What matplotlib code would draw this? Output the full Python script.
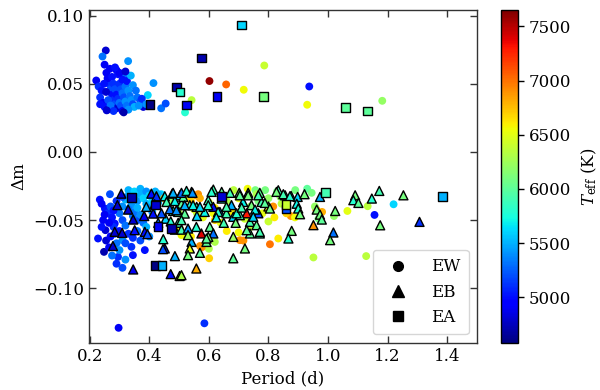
import matplotlib
matplotlib.use("Agg")
import matplotlib.pyplot as plt
from matplotlib.lines import Line2D

plt.rcParams['font.family'] = ['DejaVu Serif']
plt.rcParams['mathtext.fontset'] = 'dejavuserif'

# ---------------- data ----------------
# EW (circles)
ew_period = [0.254, 0.243, 0.250, 0.256, 0.290, 0.295, 0.222, 0.329, 0.318, 0.414, 0.395, 0.440, 0.455, 0.380,
             0.520, 0.542, 0.602, 0.658, 0.717, 0.786, 0.937, 0.930, 1.182,
             0.230, 0.240, 0.235, 0.245, 0.250, 0.260, 0.265, 0.270, 0.275, 0.280, 0.285, 0.290, 0.260, 0.268,
             0.275, 0.280, 0.285, 0.290, 0.295, 0.300, 0.305, 0.310, 0.300, 0.305, 0.310, 0.315, 0.320, 0.325,
             0.310, 0.320, 0.330, 0.335, 0.340, 0.345, 0.350, 0.360, 0.370, 0.365, 0.375, 0.390, 0.330, 0.255,
             0.248, 0.262, 0.270, 0.280, 0.235, 0.325, 0.338, 0.345, 0.355, 0.300, 0.285, 0.320, 0.314, 0.257,
             # lower band, left cluster
             0.234, 0.251, 0.245, 0.253, 0.228, 0.248, 0.290, 0.295, 0.340, 0.345, 0.385, 0.330, 0.310, 0.284,
             0.268, 0.260, 0.270, 0.275, 0.280, 0.285, 0.290, 0.300, 0.300, 0.310, 0.310, 0.320, 0.320, 0.330,
             0.340, 0.350, 0.360, 0.370, 0.380, 0.390, 0.400, 0.410, 0.420, 0.350, 0.360, 0.370, 0.380, 0.390,
             0.400, 0.340, 0.240, 0.255, 0.265, 0.275, 0.320, 0.310, 0.270, 0.297, 0.585,
             0.330, 0.350, 0.370, 0.390, 0.400, 0.420, 0.440, 0.430, 0.410, 0.360, 0.345, 0.330, 0.310, 0.290,
             0.280, 0.265, 0.250, 0.240, 0.300, 0.320, 0.360, 0.370, 0.345,
             # lower band, coloured
             0.601, 0.704, 0.805, 0.833, 0.951, 1.128, 1.156, 1.220, 1.133, 1.065, 1.020, 0.890, 0.930, 0.945,
             0.960, 0.980, 0.875, 0.730, 0.756, 0.789, 0.829, 0.816, 0.716, 0.700, 0.800, 0.600, 0.576, 0.564,
             0.508, 0.615, 0.560, 0.766, 0.683, 0.558, 0.570, 0.502, 0.844, 0.889, 0.956, 0.968, 0.430, 0.450,
             0.480, 0.650, 0.740, 0.620,
             0.520, 0.540, 0.550, 0.570, 0.580, 0.600, 0.620, 0.640, 0.660, 0.680, 0.700, 0.720, 0.740, 0.760,
             0.780, 0.800, 0.820, 0.840, 0.860, 0.540, 0.500, 0.470, 0.620, 0.660]
ew_dm = [0.0744, 0.070, 0.064, 0.058, 0.060, 0.057, 0.0524, 0.0666, 0.055, 0.0505, 0.0417, 0.032, 0.0355, 0.033,
         0.029, 0.038, 0.052, 0.0495, 0.0456, 0.0634, 0.048, 0.0346, 0.0375,
         0.048, 0.045, 0.040, 0.036, 0.033, 0.031, 0.050, 0.046, 0.042, 0.038, 0.035, 0.032, 0.054, 0.061,
         0.055, 0.050, 0.046, 0.042, 0.039, 0.036, 0.034, 0.030, 0.050, 0.046, 0.043, 0.040, 0.037, 0.034,
         0.053, 0.048, 0.045, 0.041, 0.038, 0.035, 0.033, 0.040, 0.037, 0.034, 0.039, 0.035, 0.031, 0.044,
         0.050, 0.038, 0.034, 0.030, 0.035, 0.052, 0.056, 0.049, 0.045, 0.058, 0.062, 0.059, 0.029, 0.0305,
         -0.035, -0.0415, -0.050, -0.0574, -0.0635, -0.0733, -0.082, -0.077, -0.0696, -0.0757, -0.072, -0.060, -0.0647, -0.0525,
         -0.031, -0.045, -0.040, -0.048, -0.055, -0.060, -0.067, -0.072, -0.045, -0.040, -0.050, -0.054, -0.035, -0.032,
         -0.030, -0.033, -0.036, -0.031, -0.034, -0.038, -0.041, -0.036, -0.033, -0.044, -0.050, -0.046, -0.052, -0.055,
         -0.062, -0.039, -0.038, -0.065, -0.070, -0.076, -0.079, -0.085, -0.062, -0.129, -0.1257,
         -0.028, -0.029, -0.027, -0.029, -0.032, -0.029, -0.031, -0.037, -0.044, -0.041, -0.047, -0.042, -0.033, -0.036,
         -0.043, -0.052, -0.046, -0.055, -0.058, -0.067, -0.058, -0.065, -0.063,
         -0.078, -0.0647, -0.0677, -0.0635, -0.0774, -0.0764, -0.0462, -0.0384, -0.0398, -0.0433, -0.047, -0.028, -0.027, -0.030,
         -0.042, -0.044, -0.047, -0.027, -0.028, -0.028, -0.029, -0.040, -0.065, -0.059, -0.051, -0.071, -0.070, -0.031,
         -0.061, -0.045, -0.045, -0.036, -0.028, -0.032, -0.069, -0.056, -0.038, -0.048, -0.040, -0.049, -0.031, -0.034,
         -0.036, -0.033, -0.055, -0.050,
         -0.033, -0.036, -0.042, -0.034, -0.048, -0.037, -0.041, -0.052, -0.036, -0.044, -0.034, -0.049, -0.040, -0.031,
         -0.045, -0.034, -0.048, -0.033, -0.045, -0.062, -0.045, -0.036, -0.066, -0.058]
ew_teff = [4800, 5300, 4900, 4900, 4900, 5000, 4900, 5400, 5300, 5400, 5600, 5300, 5200, 4800,
           5800, 6350, 7600, 7050, 6550, 6400, 5000, 6550, 6200,
           5100, 5000, 5100, 4900, 5000, 4800, 5100, 5200, 5000, 5100, 5200, 4800, 4900, 4900,
           5000, 5100, 5200, 5000, 5100, 5300, 5200, 4900, 5100, 5200, 5300, 5200, 5400, 5300,
           5000, 5300, 5400, 5300, 5400, 5200, 5500, 5300, 5200, 5400, 5100, 5400, 5400, 4800,
           5000, 5200, 5300, 5100, 5000, 5000, 5500, 5400, 5300, 4900, 5000, 4800, 4700, 4800,
           5000, 5000, 4900, 4800, 5000, 4700, 5100, 5100, 5100, 5000, 5000, 5100, 5400, 5000,
           5200, 5100, 5200, 5000, 5100, 5200, 5300, 5400, 5300, 5400, 5200, 5300, 5500, 5500,
           5400, 5500, 5400, 5500, 5600, 5500, 5400, 5600, 5500, 5300, 5200, 5400, 5300, 5500,
           5400, 5400, 4900, 4800, 4900, 5300, 5400, 5200, 4900, 4900, 5100,
           5500, 5600, 5500, 5400, 5600, 5500, 5600, 5500, 5400, 5500, 5300, 5300, 5200, 5100,
           5000, 4900, 4900, 5000, 5000, 5200, 5300, 5200, 5100,
           6700, 6900, 7000, 6600, 6350, 6350, 5000, 5600, 6350, 6500, 6200, 6100, 6000, 6100,
           6900, 6800, 6900, 6550, 6100, 6100, 6100, 6900, 6900, 6550, 6400, 6300, 6900, 6900,
           6550, 6550, 6350, 6100, 6350, 6900, 6900, 6550, 6350, 6550, 6200, 6100, 5500, 6700,
           6600, 6500, 6400, 6700,
           6500, 6700, 6500, 6800, 6500, 6400, 6600, 6500, 6300, 6600, 6500, 6400, 6200, 6300,
           6500, 6200, 6600, 6200, 6700, 6600, 6300, 6200, 6300, 6600]

# EB (triangles)
eb_period = [0.306, 0.293, 0.329, 0.346, 0.383, 0.284, 0.309, 0.351, 0.385, 0.394, 0.278, 0.346,
             0.407, 0.424, 0.452, 0.477, 0.503, 0.458, 0.486, 0.508, 0.413, 0.480, 0.497, 0.455,
             0.472, 0.497, 0.447, 0.452, 0.486, 0.472, 0.502, 0.486, 0.508,
             0.514, 0.542, 0.536, 0.519, 0.559, 0.586, 0.598, 0.615, 0.615, 0.637, 0.643, 0.659,
             0.676, 0.702, 0.732, 0.715, 0.743, 0.771, 0.777, 0.800, 0.766, 0.738, 0.727, 0.704,
             0.682, 0.760, 0.575, 0.603, 0.615, 0.558, 0.530, 0.508, 0.738, 0.771, 0.682, 0.721,
             0.682, 0.598, 0.592, 0.542, 0.536, 0.530, 0.558, 0.508, 0.833,
             0.856, 0.876, 0.898, 0.921, 0.895, 0.900, 0.906, 0.973, 0.962, 0.973, 0.979, 1.024,
             0.951, 0.878, 0.867, 1.018, 1.007, 1.091, 1.085, 1.102, 1.147, 1.172, 1.253, 1.175,
             1.307,
             0.480, 0.508, 0.525, 0.545, 0.609, 0.643, 0.671, 0.704, 0.732, 0.766, 0.827, 0.850,
             0.872, 0.390, 0.418, 0.441, 0.469, 0.491, 0.519, 0.547, 0.570, 0.598, 0.631, 0.659,
             0.693, 0.710, 0.755, 0.788, 0.805, 0.749, 0.771, 0.727, 0.446, 0.592, 0.570, 0.650,
             0.625, 0.690, 0.560, 0.430, 0.530]
eb_dm = [-0.0306, -0.039, -0.0423, -0.0496, -0.047, -0.0586, -0.0594, -0.0574, -0.0586, -0.0603, -0.069, -0.0862,
         -0.0306, -0.0325, -0.0325, -0.0306, -0.0318, -0.0367, -0.036, -0.038, -0.0452, -0.0433, -0.044, -0.049,
         -0.051, -0.052, -0.064, -0.0708, -0.0764, -0.0896, -0.091, -0.057, -0.057,
         -0.033, -0.0293, -0.039, -0.0452, -0.0403, -0.044, -0.0354, -0.0276, -0.0403, -0.044, -0.0342, -0.045,
         -0.039, -0.030, -0.030, -0.0367, -0.039, -0.030, -0.0367, -0.040, -0.045, -0.0513, -0.045, -0.0464,
         -0.0476, -0.0537, -0.0598, -0.055, -0.0598, -0.055, -0.0562, -0.050, -0.0598, -0.0598, -0.0623, -0.0708,
         -0.078, -0.0623, -0.066, -0.066, -0.0708, -0.0757, -0.0855, -0.0904, -0.0281,
         -0.0318, -0.0323, -0.033, -0.031, -0.038, -0.0415, -0.0457, -0.033, -0.0423, -0.046, -0.0496, -0.0433,
         -0.0537, -0.0579, -0.0635, -0.0591, -0.0647, -0.0318, -0.0354, -0.0374, -0.0342, -0.0286, -0.0318, -0.0538,
         -0.0513,
         -0.030, -0.030, -0.0286, -0.030, -0.0293, -0.0293, -0.030, -0.0318, -0.0318, -0.0318, -0.0293, -0.031,
         -0.0325, -0.0403, -0.0384, -0.045, -0.042, -0.0428, -0.0391, -0.0391, -0.0403, -0.0391, -0.044, -0.0403,
         -0.045, -0.0408, -0.0423, -0.0374, -0.0415, -0.0476, -0.0586, -0.0574, -0.0713, -0.0635, -0.074, -0.052,
         -0.048, -0.052, -0.047, -0.052, -0.061]
eb_teff = [4800, 4800, 4800, 4800, 4900, 4800, 4800, 5000, 5000, 5200, 4800, 4900,
           5000, 5100, 5700, 5300, 5600, 5900, 5700, 6000, 5000, 5800, 5900, 5600,
           5800, 5900, 5800, 5000, 5500, 5000, 6400, 5800, 5900,
           6000, 5900, 5800, 6000, 5900, 5700, 5900, 5900, 5000, 5300, 5800, 5900,
           5500, 6100, 5800, 5700, 6100, 6000, 5900, 6500, 5200, 5900, 7300, 5900,
           5600, 6000, 7400, 6000, 5300, 5800, 5400, 5900, 6000, 5900, 6200, 6100,
           6000, 6100, 6000, 5500, 6500, 6100, 6800, 6300, 5900,
           5900, 5700, 5600, 6100, 5700, 5800, 6100, 5500, 6100, 6100, 6000, 6100,
           6900, 6100, 5800, 5300, 6100, 6100, 5800, 6000, 5800, 5900, 6100, 6100,
           5100,
           5500, 5300, 5800, 5400, 5800, 6000, 5900, 6000, 6100, 5900, 6100, 5900,
           5800, 5500, 5000, 5200, 5300, 5400, 5500, 5700, 5600, 5800, 5800, 5900,
           5800, 5900, 5700, 6000, 6100, 5600, 5900, 6000, 5200, 6000, 6000, 5900,
           5700, 6100, 5600, 5300, 6200]

# EA (squares)
ea_period = [0.709, 0.575, 0.491, 0.503, 0.403, 0.525, 0.627, 0.784, 1.059, 1.132,
             0.340, 0.420, 0.430, 0.474, 0.420, 0.442, 0.643, 0.992, 0.859, 0.859, 1.385]
ea_dm = [0.0932, 0.0688, 0.0475, 0.0441, 0.0346, 0.0343, 0.0405, 0.0405, 0.0327, 0.030,
         -0.0335, -0.039, -0.0545, -0.056, -0.0835, -0.0835, -0.0325, -0.0298, -0.0420, -0.0384, -0.0325]
ea_teff = [5600, 4700, 4700, 5800, 4600, 4900, 4900, 6100, 6000, 6000,
           4700, 4800, 4900, 4700, 4600, 5500, 4800, 5900, 5200, 6400, 5500]

types = ['EW', 'EB', 'EA']
teff_min, teff_max = 4580, 7650

# ---------------- plot ----------------
fig = plt.figure(figsize=(6.0, 3.9), dpi=100)
ax = fig.add_axes([0.148, 0.121, 0.647, 0.853])
cax = fig.add_axes([0.835, 0.121, 0.029, 0.853])

common = dict(cmap='jet', vmin=teff_min, vmax=teff_max)
sc = ax.scatter(ew_period, ew_dm, c=ew_teff, marker='o', s=32, edgecolors='none', zorder=2, **common)
ax.scatter(eb_period, eb_dm, c=eb_teff, marker='^', s=42, edgecolors='black', linewidths=1.0, zorder=3, **common)
ax.scatter(ea_period, ea_dm, c=ea_teff, marker='s', s=38, edgecolors='black', linewidths=1.0, zorder=4, **common)

ax.set_xlim(0.197, 1.5)
ax.set_ylim(-0.14, 0.104)
ax.set_xticks([0.2, 0.4, 0.6, 0.8, 1.0, 1.2, 1.4])
ax.set_yticks([-0.10, -0.05, 0.00, 0.05, 0.10])
ax.set_xticklabels(['0.2', '0.4', '0.6', '0.8', '1.0', '1.2', '1.4'])
ax.set_yticklabels(['\u22120.10', '\u22120.05', '0.00', '0.05', '0.10'])
ax.tick_params(direction='in', top=True, right=True, labelsize=12, length=5, width=1, color='#333333')
for sp in ax.spines.values():
    sp.set_color('#333333')
    sp.set_linewidth(1.0)
ax.set_xlabel('Period (d)', fontsize=12)
ax.set_ylabel('\u0394m', fontsize=12)

handles = [Line2D([], [], marker=m, color='black', linestyle='none', markersize=ms)
           for m, ms in zip(['o', '^', 's'], [7, 8, 7])]
leg = ax.legend(handles, types, loc='lower right', fontsize=12, handletextpad=1.0,
                borderpad=0.5, labelspacing=0.5, frameon=True, fancybox=True)

cb = fig.colorbar(sc, cax=cax)
cb.set_ticks([5000, 5500, 6000, 6500, 7000, 7500])
cb.ax.tick_params(labelsize=12, length=4, width=1)
cb.outline.set_linewidth(1.0)
cb.set_label(r'$T_{\rm eff}$ (K)', fontsize=12, labelpad=6)

fig.savefig('out.png', dpi=100)
